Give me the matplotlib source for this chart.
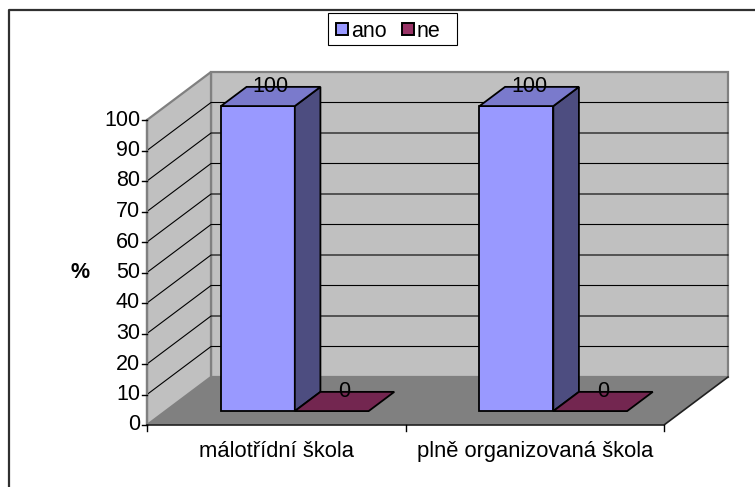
import matplotlib.pyplot as plt
from matplotlib.patches import Polygon, Rectangle

plt.rcParams['font.family'] = ['Liberation Sans', 'DejaVu Sans']

# data
categories = ["málotřídní škola", "plně organizovaná škola"]
series_names = ["ano", "ne"]
ano = [100, 100]
ne = [0, 0]
yticks = [0, 10, 20, 30, 40, 50, 60, 70, 80, 90, 100]

# colours (Excel 97 palette)
front_col = ["#9999FF", "#993366"]
top_col = ["#7A7ACC", "#732650"]
side_col = ["#4D4D80", "#4D1A33"]

FS = 15.5

# pseudo-3d layout (pixel space)
X0, Y0 = 147, 425          # front origin
PX_PER_UNIT = 3.05
CAT_W = 258.5
DX, DY = 64, -48           # depth vector of the whole chart
D0, D1 = 0.29, 0.69        # bar depth range
GAP = 1.5                  # gap width relative to bar width
BAR_W = CAT_W / (len(series_names) + GAP)


def proj(x, v, d):
    return (x + d * DX, Y0 - v * PX_PER_UNIT + d * DY)


fig = plt.figure(figsize=(7.55, 4.87), dpi=100)
ax = fig.add_axes([0, 0, 1, 1])
ax.set_xlim(0, 755)
ax.set_ylim(487, 0)
ax.axis("off")

x_end = X0 + CAT_W * len(categories)
vmax = yticks[-1]

# walls and floor
back = [proj(X0, 0, 1), proj(x_end, 0, 1), proj(x_end, vmax, 1), proj(X0, vmax, 1)]
side = [proj(X0, 0, 0), proj(X0, vmax, 0), proj(X0, vmax, 1), proj(X0, 0, 1)]
floor = [proj(X0, 0, 0), proj(x_end, 0, 0), proj(x_end, 0, 1), proj(X0, 0, 1)]
ax.add_patch(Polygon(back, closed=True, fc="#C0C0C0", ec="#808080", lw=1.6, zorder=1))
ax.add_patch(Polygon(side, closed=True, fc="#C0C0C0", ec="#808080", lw=1.6, zorder=1))
ax.add_patch(Polygon(floor, closed=True, fc="#808080", ec="none", zorder=1))

# gridlines
for v in yticks[1:-1]:
    a, b, c = proj(X0, v, 0), proj(X0, v, 1), proj(x_end, v, 1)
    ax.plot([a[0], b[0], c[0]], [a[1], b[1], c[1]], color="black", lw=0.8, zorder=2)

# axes lines
ax.plot([X0, X0], [proj(X0, 0, 0)[1], proj(X0, vmax, 0)[1]], color="#808080", lw=1.6, zorder=3)
f1, f2 = proj(x_end, 0, 0), proj(x_end, 0, 1)
ax.plot([X0, f1[0], f2[0]], [Y0, f1[1], f2[1]], color="#202020", lw=1.2, zorder=3)

# y ticks
for v in yticks:
    y = proj(X0, v, 0)[1]
    ax.plot([X0 - 5, X0], [y, y], color="black", lw=1.0, zorder=3)
    ax.text(X0 - 7, y, str(v), ha="right", va="center", fontsize=FS, zorder=3)

# x ticks and labels
for i in range(len(categories) + 1):
    x = X0 + i * CAT_W
    ax.plot([x, x], [Y0, Y0 + 6], color="black", lw=1.0, zorder=3)
for i, name in enumerate(categories):
    ax.text(X0 + (i + 0.5) * CAT_W, 457, name, ha="center", va="baseline",
            fontsize=FS + 0.3, zorder=3)

ax.text(80, 272, "%", ha="center", va="center", fontsize=FS, fontweight="bold")

# bars
values = [ano, ne]
for i in range(len(categories)):
    for s, vals in enumerate(values):
        v = vals[i]
        xa = X0 + i * CAT_W + GAP * BAR_W / 2 + s * BAR_W
        xb = xa + BAR_W
        front = [proj(xa, 0, D0), proj(xb, 0, D0), proj(xb, v, D0), proj(xa, v, D0)]
        top = [proj(xa, v, D0), proj(xb, v, D0), proj(xb, v, D1), proj(xa, v, D1)]
        right = [proj(xb, 0, D0), proj(xb, 0, D1), proj(xb, v, D1), proj(xb, v, D0)]
        z = 4 + i
        if v > 0:
            ax.add_patch(Polygon(front, closed=True, fc=front_col[s], ec="black",
                                 lw=1.3, joinstyle="miter", zorder=z))
            ax.add_patch(Polygon(right, closed=True, fc=side_col[s], ec="black",
                                 lw=1.3, joinstyle="miter", zorder=z))
        ax.add_patch(Polygon(top, closed=True, fc=top_col[s], ec="black",
                             lw=1.3, joinstyle="miter", zorder=z))
        lx, ly = proj((xa + xb) / 2, v, (D0 + D1) / 2)
        ax.text(lx, ly - 10, str(v), ha="center", va="center", fontsize=FS, zorder=8)

# legend
ax.add_patch(Rectangle((328, 13), 129, 32, fc="white", ec="black", lw=0.8, zorder=5))
leg_x = [336, 402]
for s, name in enumerate(series_names):
    ax.add_patch(Rectangle((leg_x[s], 23), 12, 12, fc=front_col[s], ec="black",
                           lw=1.4, zorder=6))
    ax.text(leg_x[s] + 15, 37, name, ha="left", va="baseline", fontsize=FS, zorder=6)

# chart area border (top and left visible)
ax.plot([9, 9, 755], [487, 10, 10], color="#303030", lw=1.6, zorder=9)

fig.savefig("out.png", dpi=100)
